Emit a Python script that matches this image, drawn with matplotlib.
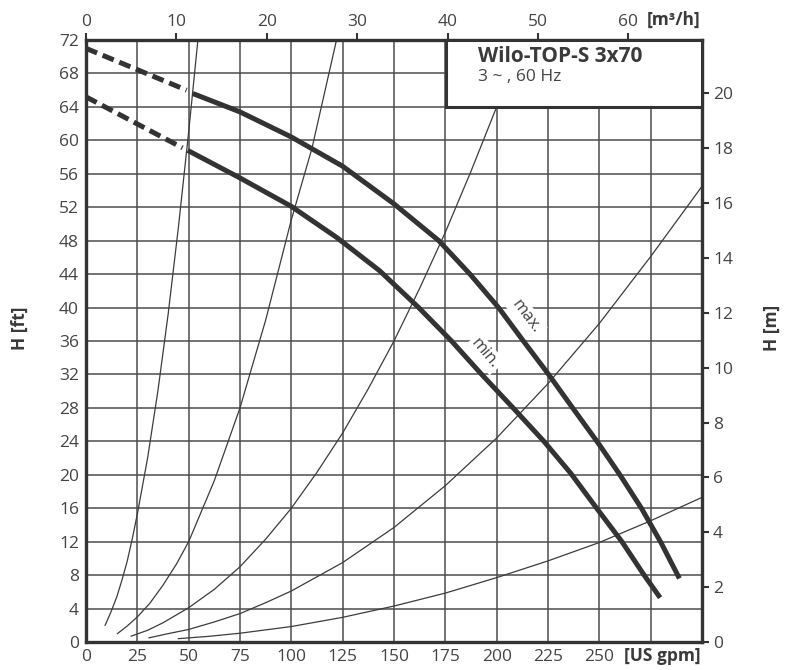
import matplotlib
matplotlib.use("Agg")
import matplotlib.pyplot as plt
from matplotlib.patches import Rectangle

plt.rcParams['font.family'] = ['Open Sans', 'DejaVu Sans']

# ---- data ----
# pump curves: flow in US gpm, head in ft
max_dash_q = [0, 49]
max_dash_h = [71.0, 66.0]
max_q = [52, 75, 100, 125, 150, 171.8, 187, 200.9, 213, 225, 237, 250, 260, 270.5, 280, 289]
max_h = [65.6, 63.4, 60.4, 56.9, 52.4, 48.0, 44.0, 40.0, 36.0, 32.1, 28.0, 23.6, 20.0, 16.0, 11.9, 7.6]

min_dash_q = [0, 47]
min_dash_h = [65.2, 59.1]
min_q = [49.5, 75, 100, 122, 143, 162, 178, 192.7, 208, 223, 236, 248.7, 261, 271.8, 279.6]
min_h = [58.8, 55.5, 52.1, 48.4, 44.4, 40.0, 36.0, 32.0, 28.0, 24.0, 20.2, 16.0, 12.0, 8.0, 5.3]

# system curves (thin lines)
sys1_q = [9.3, 12, 15, 17.5, 20, 22.5, 25, 30, 35, 40, 45, 50, 54.5]
sys1_h = [2.0, 3.5, 5.4, 7.4, 9.6, 12.3, 15.3, 22.0, 30.0, 39.2, 49.6, 61.0, 72.0]
sys2_q = [15.3, 20, 25, 31, 37.5, 44, 50, 62.5, 75, 87.5, 100, 110, 122]
sys2_h = [1.0, 1.9, 3.0, 4.6, 6.8, 9.3, 12.0, 19.3, 28.0, 38.5, 50.5, 59.0, 72.0]
sys3_q = [22, 30, 37.5, 50, 62.5, 75, 87.5, 100, 112.5, 125, 137.5, 150, 162.5, 175, 187.5, 200]
sys3_h = [0.7, 1.4, 2.3, 4.1, 6.3, 9.0, 12.3, 16.0, 20.3, 25.0, 30.3, 36.0, 42.3, 49.0, 56.3, 64.0]
sys4_q = [30.7, 40, 50, 62.5, 75, 87.5, 100, 125, 150, 175, 200, 225, 250, 275, 300]
sys4_h = [0.5, 1.0, 1.5, 2.4, 3.4, 4.7, 6.1, 9.5, 13.7, 18.7, 24.4, 30.9, 38.1, 46.1, 54.5]
sys5_q = [45, 60, 75, 100, 125, 150, 175, 200, 225, 250, 275, 300]
sys5_h = [0.4, 0.68, 1.05, 1.85, 2.95, 4.3, 5.85, 7.7, 9.7, 11.9, 14.5, 17.3]

x_ticks = [0, 25, 50, 75, 100, 125, 150, 175, 200, 225, 250, 275]
x_labels = ['0', '25', '50', '75', '100', '125', '150', '175', '200', '225', '250', '']
y_ticks = list(range(0, 73, 4))
top_ticks = [0, 10, 20, 30, 40, 50, 60]
right_ticks = list(range(0, 21, 2))

title = 'Wilo-TOP-S 3x70'
subtitle = '3 ~ , 60 Hz'

GPM_PER_M3H = 4.4029
FT_PER_M = 3.28084

# ---- figure ----
fig = plt.figure(figsize=(7.9, 6.7), dpi=100)
ax = fig.add_axes([86/790, 28/670, 616/790, 602/670])

dark = '#333333'
txt = '#444444'
grid_c = '#4d4d4d'

ax.set_xlim(0, 300)
ax.set_ylim(0, 72)
ax.set_xticks(x_ticks)
ax.set_xticklabels(x_labels)
ax.set_yticks(y_ticks)
ax.tick_params(axis='both', length=0, labelsize=12.5, labelcolor=txt, pad=5)
ax.grid(True, color=grid_c, lw=1.1, zorder=1)
ax.set_axisbelow(True)
for s in ax.spines.values():
    s.set_linewidth(2.4)
    s.set_color(dark)

for q, h in [(sys1_q, sys1_h), (sys2_q, sys2_h), (sys3_q, sys3_h),
             (sys4_q, sys4_h), (sys5_q, sys5_h)]:
    ax.plot(q, h, color='#3c3c3c', lw=0.9, zorder=2, clip_on=True)

ax.plot(max_dash_q, max_dash_h, color=dark, lw=3.6, ls=(0, (2.4, 1.2)), zorder=3,
        dash_capstyle='butt')
ax.plot(min_dash_q, min_dash_h, color=dark, lw=3.6, ls=(0, (2.4, 1.2)), zorder=3,
        dash_capstyle='butt')
ax.plot(max_q, max_h, color=dark, lw=3.6, zorder=3, solid_capstyle='butt',
        solid_joinstyle='round')
ax.plot(min_q, min_h, color=dark, lw=3.6, zorder=3, solid_capstyle='butt',
        solid_joinstyle='round')

ax.text(214.5, 38.9, 'max.', rotation=-53, ha='center', va='center', fontsize=12,
        color=txt, zorder=4, rotation_mode='anchor',
        bbox=dict(boxstyle='square,pad=0.15', fc='white', ec='none'))
ax.text(194.3, 34.5, 'min.', rotation=-50, ha='center', va='center', fontsize=12,
        color=txt, zorder=4, rotation_mode='anchor',
        bbox=dict(boxstyle='square,pad=0.15', fc='white', ec='none'))

# title box
box = Rectangle((175.5, 64), 300 - 175.5, 8, facecolor='white', edgecolor=dark,
                lw=2.2, zorder=5, clip_on=False)
ax.add_patch(box)
ax.text(191, 70.0, title, fontsize=15, fontweight='bold', color='#3a3a3a',
        ha='left', va='center', zorder=6)
ax.text(191, 67.6, subtitle, fontsize=12.5, color=txt, ha='left', va='center', zorder=6)

# secondary axes
secx = ax.secondary_xaxis('top', functions=(lambda g: g / GPM_PER_M3H,
                                            lambda m: m * GPM_PER_M3H))
secx.set_xticks(top_ticks)
secx.tick_params(length=5, width=1.5, color=dark, labelsize=12.5, labelcolor=txt, pad=2)
secx.spines['top'].set_visible(False)

secy = ax.secondary_yaxis('right', functions=(lambda f: f / FT_PER_M,
                                              lambda m: m * FT_PER_M))
secy.set_yticks(right_ticks)
secy.tick_params(length=5, width=1.5, color=dark, labelsize=12.5, labelcolor=txt, pad=3)
secy.spines['right'].set_visible(False)

fig.text(700/790, 1 - 20/670, '[m³/h]', fontsize=12.5, fontweight='bold', color='#3a3a3a',
         ha='right', va='center')
fig.text(701/790, 1 - 656/670, '[US gpm]', fontsize=12.5, fontweight='bold', color='#3a3a3a',
         ha='right', va='center')
fig.text(20/790, 1 - 328/670, 'H [ft]', fontsize=12.5, fontweight='bold', color='#3a3a3a',
         rotation=90, ha='center', va='center')
fig.text(772/790, 1 - 328/670, 'H [m]', fontsize=12.5, fontweight='bold', color='#3a3a3a',
         rotation=90, ha='center', va='center')

fig.savefig('out.png', dpi=100, facecolor='white')
